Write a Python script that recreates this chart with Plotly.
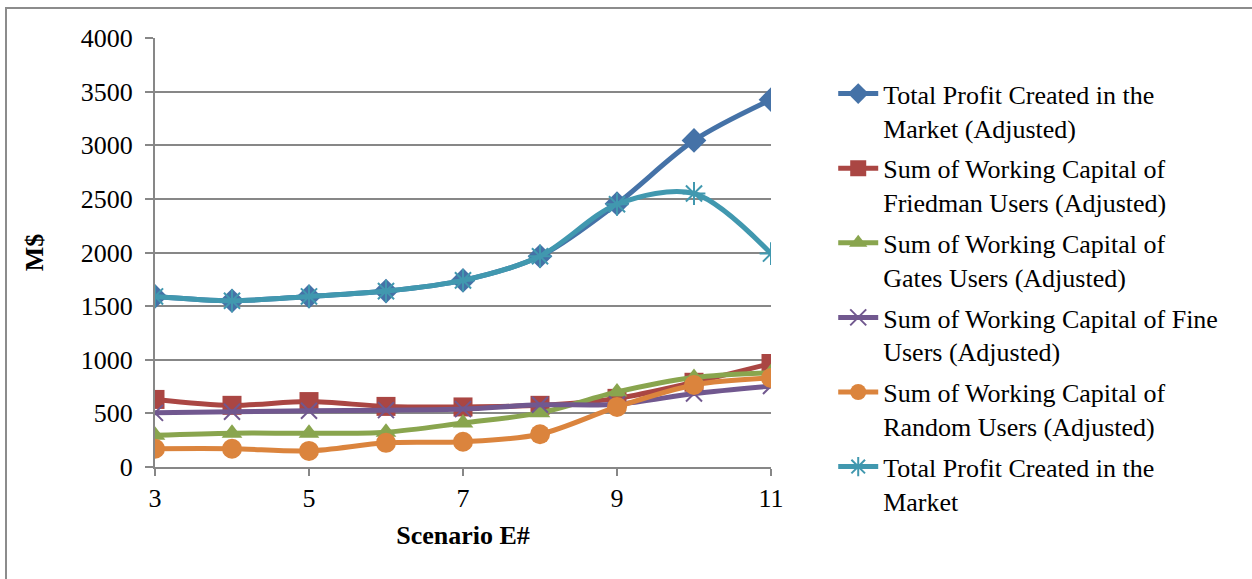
import plotly.graph_objects as go

# Scenario numbers on the x axis
scenarios = [3, 4, 5, 6, 7, 8, 9, 10, 11]

# Values in M$ per scenario
profit_adjusted = [1590, 1550, 1590, 1640, 1740, 1965, 2455, 3045, 3425]
friedman_adjusted = [630, 575, 610, 565, 560, 575, 640, 790, 965]
gates_adjusted = [295, 315, 315, 325, 410, 505, 700, 835, 880]
fine_adjusted = [505, 515, 525, 530, 540, 580, 585, 685, 755]
random_adjusted = [170, 170, 150, 225, 235, 305, 560, 765, 830]
profit_market = [1590, 1550, 1590, 1640, 1740, 1965, 2450, 2550, 1990]

series_names = [
    "Total Profit Created in the<br>Market (Adjusted)",
    "Sum of Working Capital of<br>Friedman Users (Adjusted)",
    "Sum of Working Capital of<br>Gates Users (Adjusted)",
    "Sum of Working Capital of Fine<br>Users (Adjusted)",
    "Sum of Working Capital of<br>Random Users (Adjusted)",
    "Total Profit Created in the<br>Market",
]

series_values = [profit_adjusted, friedman_adjusted, gates_adjusted,
                 fine_adjusted, random_adjusted, profit_market]

styles = [
    dict(color="#4572A7", symbol="diamond", size=19, mline=0),
    dict(color="#AA4643", symbol="square", size=19, mline=0),
    dict(color="#89A54E", symbol="triangle-up", size=18, mline=0),
    dict(color="#71588F", symbol="x-thin-open", size=16, mline=2),
    dict(color="#DB843D", symbol="circle", size=20, mline=0),
    dict(color="#4198AF", symbol="asterisk-open", size=19, mline=2),
]

fig = go.Figure()
for i, (name, vals, st) in enumerate(zip(series_names, series_values, styles)):
    fig.add_trace(go.Scatter(
        x=scenarios, y=vals, name=name, mode="lines+markers",
        legendgroup=f"g{i}",
        line=dict(color=st["color"], width=5, shape="spline", smoothing=0.9),
        marker=dict(symbol=st["symbol"], size=st["size"], color=st["color"],
                    line=dict(color=st["color"], width=st["mline"])),
    ))

font_family = "Liberation Serif"
grid_color = "#878787"

fig.update_layout(
    width=1252, height=579,
    margin=dict(l=155, r=481, t=38, b=112),
    paper_bgcolor="white", plot_bgcolor="white",
    font=dict(family=font_family, size=26, color="black"),
    showlegend=True,
    legend=dict(
        x=1.101, y=0.925, xanchor="left", yanchor="top",
        font=dict(family=font_family, size=26, color="black"),
        traceorder="grouped", tracegroupgap=4,
        itemwidth=40, valign="top", maxheight=700,
        bgcolor="rgba(0,0,0,0)",
    ),
    xaxis=dict(
        range=[3, 11], tickmode="array", tickvals=[3, 5, 7, 9, 11],
        showgrid=False, zeroline=False,
        showline=True, linecolor=grid_color, linewidth=2,
        ticks="outside", ticklen=7, tickcolor=grid_color, tickwidth=2,
        tickfont=dict(family=font_family, size=26),
        title=dict(text="<b>Scenario E#</b>",
                   font=dict(family=font_family, size=26), standoff=14),
    ),
    yaxis=dict(
        range=[0, 4000], dtick=500, tick0=0,
        showgrid=True, gridcolor=grid_color, gridwidth=2,
        zeroline=False,
        showline=True, linecolor=grid_color, linewidth=2,
        ticks="outside", ticklen=8, tickcolor=grid_color, tickwidth=2,
        ticklabelstandoff=7,
        tickfont=dict(family=font_family, size=26),
        title=dict(text="<b>M$</b>",
                   font=dict(family=font_family, size=26), standoff=30),
    ),
    shapes=[dict(
        type="rect", xref="paper", yref="paper",
        x0=-149 / 616, x1=1260 / 616 - 155 / 616,
        y0=-130 / 429, y1=(467 - 8) / 429,
        line=dict(color="#8C8C8C", width=2), fillcolor="rgba(0,0,0,0)",
        layer="below",
    )],
)

fig.write_html("out.html")
